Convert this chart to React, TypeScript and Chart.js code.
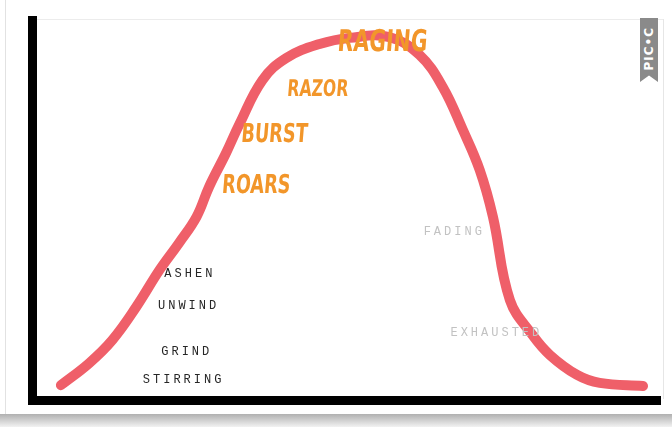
import React, { useEffect, useRef } from "react";
import { Chart, registerables } from "chart.js";

Chart.register(...registerables);

// Curve (data coordinates: x 0..100, y 0..100)
const curveX = [4.6, 9.1, 12.8, 16.6, 20.3, 23.4, 26.2, 28.2, 30.9, 33.0, 36.7, 40.5, 45.8, 50.6, 56.9, 61.7, 65.4, 68.6, 71.3, 73.4, 76.1, 79.7, 82.5, 86.8, 90.4, 97.3];
const curveY = [3.9, 9.7, 15.8, 24.5, 34.2, 41.3, 48.2, 56.1, 65.0, 72.5, 84.2, 90.0, 93.7, 95.3, 95.5, 90.8, 82.4, 71.1, 60.5, 48.2, 26.3, 17.1, 11.8, 6.6, 4.5, 3.7];

// Word labels placed along the curve
const typeWords = ["ASHEN", "UNWIND", "GRIND", "STIRRING"];
const typeX = [24.9, 24.7, 24.4, 23.9];
const typeY = [33.2, 24.7, 12.6, 5.3];

const fadeWords = ["FADING", "EXHAUSTED"];
const fadeX = [67.0, 73.7];
const fadeY = [44.2, 17.8];

const boldWords = ["ROARS", "BURST", "RAZOR", "RAGING"];
const boldX = [35.7, 38.6, 45.5, 55.8];
const boldY = [56.3, 69.7, 81.6, 93.9];
const boldSizes = [26, 26, 23, 30];

const wordPlugin = {
  id: "words",
  afterDatasetsDraw(chart: any) {
    const { ctx, scales } = chart;
    const xs = scales.x;
    const ys = scales.y;
    ctx.save();
    ctx.textAlign = "center";
    ctx.textBaseline = "middle";
    ctx.font = "12px 'Liberation Mono', 'DejaVu Sans Mono', monospace";
    (ctx as any).letterSpacing = "3px";
    ctx.fillStyle = "#262626";
    typeWords.forEach((w, i) => {
      ctx.fillText(w, xs.getPixelForValue(typeX[i]) + 1.5, ys.getPixelForValue(typeY[i]));
    });
    ctx.fillStyle = "#c2c2c2";
    fadeWords.forEach((w, i) => {
      ctx.fillText(w, xs.getPixelForValue(fadeX[i]) + 1.5, ys.getPixelForValue(fadeY[i]));
    });
    (ctx as any).letterSpacing = "0px";
    ctx.fillStyle = "#f2962a";
    boldWords.forEach((w, i) => {
      ctx.save();
      ctx.translate(xs.getPixelForValue(boldX[i]), ys.getPixelForValue(boldY[i]));
      ctx.transform(0.68, 0, -0.08, 1, 0, 0);
      ctx.font = `bold ${boldSizes[i]}px 'DejaVu Sans', sans-serif`;
      ctx.fillText(w, 0, 0);
      ctx.restore();
    });
    ctx.restore();
  },
};

export default function App() {
  const ref = useRef<HTMLCanvasElement>(null);
  useEffect(() => {
    document.body.style.margin = "0";
    const chart = new Chart(ref.current as HTMLCanvasElement, {
      type: "line",
      data: {
        datasets: [
          {
            data: curveX.map((x, i) => ({ x, y: curveY[i] })),
            borderColor: "#ef5f69",
            borderWidth: 10,
            borderCapStyle: "round",
            borderJoinStyle: "round",
            tension: 0.4,
            pointRadius: 0,
            fill: false,
          },
        ],
      },
      options: {
        animation: false,
        responsive: false,
        maintainAspectRatio: false,
        layout: { padding: { left: 32, top: 20, right: 12, bottom: 27 } },
        plugins: { legend: { display: false }, tooltip: { enabled: false } },
        scales: {
          x: {
            type: "linear",
            min: 0,
            max: 100,
            ticks: { display: false },
            grid: { display: false, drawTicks: false },
            border: { display: true, color: "#000", width: 9 },
          },
          y: {
            type: "linear",
            min: 0,
            max: 100,
            ticks: { display: false },
            grid: { display: false, drawTicks: false },
            border: { display: true, color: "#000", width: 9 },
          },
        },
      },
      plugins: [wordPlugin],
    } as any);
    return () => chart.destroy();
  }, []);

  return (
    <div style={{ position: "relative", width: 672, height: 427, background: "#fff", overflow: "hidden" }}>
      <div style={{ position: "absolute", left: 5, top: 0, width: 1, height: 414, background: "#e2e2e2" }} />
      <div style={{ position: "absolute", left: 30, top: 19, width: 634, height: 1, background: "#ececec" }} />
      <div style={{ position: "absolute", left: 663, top: 19, width: 1, height: 380, background: "#e6e6e6" }} />
      <div style={{ position: "absolute", left: 0, top: 414, width: 672, height: 13, background: "linear-gradient(#b0b0b0, #f2f2f2)" }} />
      <canvas ref={ref} width={672} height={427} style={{ position: "absolute", left: 0, top: 0 }} />
      <div
        style={{
          position: "absolute",
          left: 640,
          top: 18,
          width: 18,
          height: 64,
          background: "#8a8a8a",
          overflow: "hidden",
          clipPath: "polygon(0 0, 100% 0, 100% 100%, 50% 90%, 0 100%)",
        }}
      >
        <div
          style={{
            position: "absolute",
            left: 2,
            bottom: 11,
            writingMode: "vertical-rl",
            transform: "rotate(180deg)",
            color: "#fff",
            font: "bold 12px 'DejaVu Sans', sans-serif",
            letterSpacing: "1px",
            whiteSpace: "nowrap",
          }}
        >
          PIC•C
        </div>
      </div>
    </div>
  );
}
